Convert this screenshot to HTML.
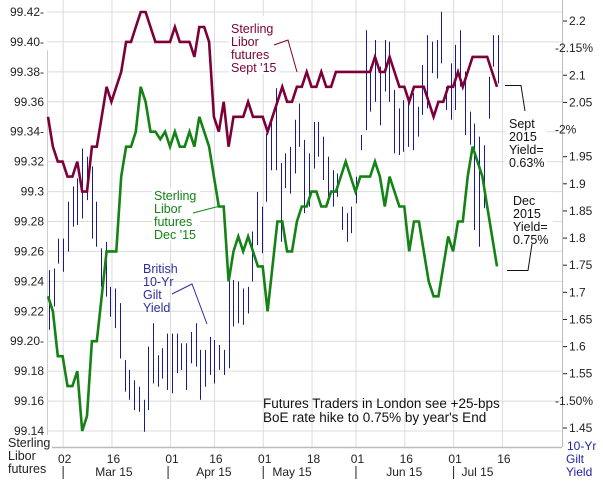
<!DOCTYPE html>
<html><head><meta charset="utf-8"><style>
html,body{margin:0;padding:0;background:#fff;}
svg{display:block;font-family:"Liberation Sans",sans-serif;}
</style></head><body>
<svg id="chart" width="603" height="482"></svg>
<script>
const septLibor=[99.35,99.33,99.32,99.32,99.31,99.31,99.32,99.30,99.30,99.33,99.33,99.35,99.37,99.36,99.37,99.38,99.40,99.40,99.41,99.42,99.42,99.41,99.40,99.40,99.40,99.40,99.41,99.40,99.40,99.40,99.39,99.41,99.41,99.40,99.35,99.34,99.36,99.33,99.35,99.35,99.35,99.36,99.35,99.35,99.35,99.34,99.35,99.36,99.37,99.36,99.36,99.37,99.37,99.38,99.37,99.37,99.38,99.37,99.37,99.38,99.38,99.38,99.38,99.38,99.38,99.38,99.38,99.39,99.38,99.38,99.39,99.38,99.37,99.37,99.36,99.37,99.37,99.37,99.36,99.35,99.36,99.36,99.37,99.37,99.38,99.37,99.38,99.39,99.39,99.39,99.39,99.38,99.37];
const decLibor=[99.23,99.22,99.19,99.19,99.17,99.17,99.18,99.14,99.15,99.20,99.20,99.23,99.26,99.26,99.26,99.31,99.33,99.33,99.34,99.37,99.36,99.34,99.34,99.335,99.34,99.33,99.34,99.33,99.33,99.34,99.33,99.35,99.34,99.33,99.31,99.29,99.29,99.24,99.26,99.27,99.26,99.27,99.26,99.25,99.25,99.22,99.25,99.28,99.28,99.26,99.26,99.28,99.29,99.29,99.30,99.30,99.29,99.29,99.30,99.30,99.31,99.32,99.31,99.30,99.31,99.31,99.31,99.32,99.31,99.29,99.31,99.30,99.29,99.29,99.26,99.28,99.28,99.26,99.24,99.23,99.23,99.25,99.27,99.26,99.28,99.28,99.31,99.33,99.32,99.31,99.29,99.27,99.25];
const giltHigh=[1.741,1.744,1.799,1.799,1.867,1.895,1.910,1.965,1.950,1.932,1.867,1.781,1.793,1.710,1.707,1.680,1.575,1.557,1.538,1.526,1.502,1.600,1.643,1.584,1.597,1.624,1.624,1.624,1.606,1.606,1.627,1.643,1.594,1.594,1.618,1.612,1.603,1.594,1.720,1.723,1.720,1.707,1.710,1.812,1.885,1.858,1.993,2.024,2.076,1.938,1.956,1.968,2.018,2.048,1.981,1.956,2.014,2.014,1.987,1.950,1.925,1.919,1.858,1.846,1.858,1.913,1.990,2.183,2.116,2.165,2.116,2.165,2.162,2.073,2.039,2.054,2.054,2.067,2.042,2.119,2.174,2.162,2.165,2.217,2.079,2.122,2.156,2.183,2.107,2.033,2.011,1.987,1.971,2.097,2.174,2.174];
const giltLow=[1.631,1.674,1.753,1.738,1.775,1.821,1.824,1.836,1.870,1.799,1.784,1.710,1.692,1.655,1.634,1.578,1.517,1.502,1.483,1.480,1.443,1.483,1.532,1.526,1.541,1.520,1.514,1.551,1.557,1.520,1.569,1.563,1.502,1.526,1.548,1.532,1.557,1.548,1.560,1.637,1.643,1.640,1.661,1.720,1.787,1.772,1.867,1.925,1.925,1.793,1.892,1.882,1.919,1.968,1.846,1.858,1.928,1.950,1.907,1.864,1.858,1.876,1.815,1.793,1.809,1.864,1.962,1.999,2.033,2.051,2.008,2.070,2.051,1.956,1.953,1.959,1.968,1.962,1.987,2.027,2.039,2.104,2.094,2.122,2.036,2.018,2.036,2.079,1.990,1.972,1.815,1.784,1.855,2.020,2.116,2.085];
const leftTicks=["99.42-","99.40-","99.38-","99.36","99.34-","99.32","99.3","99.28","99.26","99.24","99.22","99.20-","99.18","99.16","99.14"];
const leftTickVals=[99.42,99.40,99.38,99.36,99.34,99.32,99.30,99.28,99.26,99.24,99.22,99.20,99.18,99.16,99.14];
const rightTicks=["2.2","2.15%","2.1","2.05","2%","1.95","1.9","1.85","1.8","1.75","1.7","1.65","1.6","1.55","1.50%","1.45"];
const rightTickVals=[2.2,2.15,2.1,2.05,2.0,1.95,1.9,1.85,1.8,1.75,1.7,1.65,1.6,1.55,1.5,1.45];
const dayLabels=["02","16","01","16","01","18","01","16","01","16"];
const dayIdx=[3,13,25,34,44,54,63,73,83,93];
const monthLabels=["Mar 15","Apr 15","May 15","Jun 15","Jul 15"];
const monthIdx=[13.5,34,50,73,88];
const sepIdx=[3,24.5,44,63,83];

const NS="http://www.w3.org/2000/svg";
const svg=document.getElementById('chart');
const X0=48,X1=497,N=93;
function xIdx(i){return X0+(i)*(X1-X0)/(N-1);}
function yL(v){return 12+(99.42-v)/0.28*419;}
function yR(v){return 21+(2.2-v)/0.75*407;}
function mk(tag,attrs,parent){const e=document.createElementNS(NS,tag);for(const k in attrs)e.setAttribute(k,attrs[k]);(parent||svg).appendChild(e);return e;}
function txt(s,x,y,attrs){const t=mk('text',Object.assign({x:x,y:y,'font-size':12,fill:'#222'},attrs||{}));t.textContent=s;return t;}

const grid=mk('g',{});


leftTickVals.forEach(v=>{const l=mk('line',{x1:47,x2:562,y1:yL(v),y2:yL(v),stroke:'#dcdcdc','stroke-width':1},grid);});
dayIdx.forEach(i=>{mk('line',{x1:xIdx(i)+0.5,x2:xIdx(i)+0.5,y1:0,y2:447,stroke:'#dcdcdc','stroke-width':1},grid);});
// axes
const ax=mk('line',{x1:52,x2:562,y1:447.5,y2:447.5,stroke:'#bbb','stroke-width':1.5});

const ra=mk('line',{x1:562.5,x2:562.5,y1:0,y2:447,stroke:'#bbb','stroke-width':1});

mk('line',{x1:47.5,x2:47.5,y1:50,y2:435,stroke:'#ccc','stroke-width':1});

// gilt bars
const gb=mk('g',{stroke:'#1a1a8c','stroke-width':1});

const GN=giltHigh.length;
giltHigh.forEach((h,i)=>{const x=Math.round(X0+1+i*(X1-X0)/(GN-1))+0.5;
 const b=mk('line',{x1:x,x2:x,y1:yR(h),y2:yR(giltLow[i])},gb);
 
 });

function line(arr,color,name){const p=mk('polyline',{points:arr.map((v,i)=>xIdx(i).toFixed(1)+','+yL(v).toFixed(1)).join(' '),fill:'none',stroke:color,'stroke-width':2.6,'stroke-linejoin':'miter'});
 }
line(decLibor,'#148214','dec15-libor-line');
line(septLibor,'#7d0038','sept15-libor-line');

// left ticks
leftTicks.forEach((s,i)=>{const t=txt(s,44,yL(leftTickVals[i])+4,{'text-anchor':'end',fill:'#222'});
 });
rightTicks.forEach((s,i)=>{const y=yR(rightTickVals[i]);
 const pct=s.indexOf('%')>=0;
 if(!pct) mk('line',{x1:563,x2:567,y1:y,y2:y,stroke:'#222','stroke-width':1});
 const t=txt(pct?'-'+s:s,pct?555:569,y+4,{});
 });
dayLabels.forEach((s,i)=>{const t=txt(s,xIdx(dayIdx[i])+2,463,{'text-anchor':'middle'});
 });
monthLabels.forEach((s,i)=>{const t=txt(s,xIdx(monthIdx[i]),476,{'text-anchor':'middle'});
 });
sepIdx.forEach(i=>{mk('line',{x1:xIdx(i)+0.5,x2:xIdx(i)+0.5,y1:466,y2:479,stroke:'#222','stroke-width':1});});
</script>
<svg style="position:absolute;left:0;top:0" width="603" height="482">
<g font-family="Liberation Sans, sans-serif" font-size="12.5">
<text x="8" y="447" fill="#222"><tspan x="8">Sterling</tspan><tspan x="8" dy="13">Libor</tspan><tspan x="8" dy="13">futures</tspan></text>
<text x="567" y="450" fill="#2222aa" font-size="12"><tspan x="567">10-Yr</tspan><tspan x="566" dy="13">Gilt</tspan><tspan x="566" dy="13">Yield</tspan></text>
<rect x="229" y="16" width="50" height="58" fill="#fff"/>
<text fill="#7d0038"><tspan x="231" y="33">Sterling</tspan><tspan x="231" dy="13">Libor</tspan><tspan x="231" dy="13">futures</tspan><tspan x="231" dy="13">Sept '15</tspan></text>
<polyline points="274,45 288,40 297,72" fill="none" stroke="#7d0038" stroke-width="1"/>
<rect x="152" y="189" width="48" height="52" fill="#fff"/>
<text fill="#148214"><tspan x="154" y="200">Sterling</tspan><tspan x="154" dy="13">Libor</tspan><tspan x="154" dy="13">futures</tspan><tspan x="154" dy="13">Dec '15</tspan></text>
<polyline points="193,213 220,206" fill="none" stroke="#148214" stroke-width="1"/>
<text fill="#2e2ea0"><tspan x="143" y="273">British</tspan><tspan x="143" dy="13">10-Yr</tspan><tspan x="143" dy="13">Gilt</tspan><tspan x="143" dy="13">Yield</tspan></text>
<polyline points="172,294 192,284 207,324" fill="none" stroke="#2e2ea0" stroke-width="1"/>
<rect x="505" y="116" width="42" height="52" fill="#fff"/>
<text fill="#111"><tspan x="509" y="128">Sept</tspan><tspan x="509" dy="13">2015</tspan><tspan x="509" dy="13">Yield=</tspan><tspan x="509" dy="13">0.63%</tspan></text>
<polyline points="505,85.5 521,85.5 525,111" fill="none" stroke="#111" stroke-width="1"/>
<rect x="511" y="192" width="42" height="52" fill="#fff"/>
<text fill="#111"><tspan x="513" y="205">Dec</tspan><tspan x="513" dy="13">2015</tspan><tspan x="513" dy="13">Yield=</tspan><tspan x="513" dy="13">0.75%</tspan></text>
<polyline points="507,270.5 528,270.5 532,244" fill="none" stroke="#111" stroke-width="1"/>
<text fill="#111" font-size="13.5"><tspan x="263" y="408">Futures Traders in London see +25-bps</tspan><tspan x="263" dy="14">BoE rate hike to 0.75% by year's End</tspan></text>
</g></svg>
</body></html>
